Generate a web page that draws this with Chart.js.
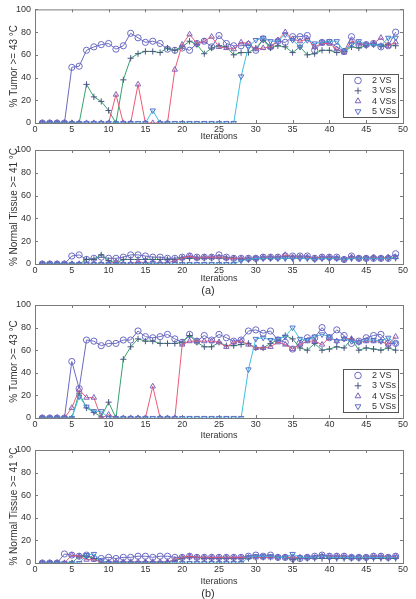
<!DOCTYPE html>
<html>
<head>
<meta charset="utf-8">
<script src="https://cdn.jsdelivr.net/npm/chart.js@4/dist/chart.umd.min.js"></script>
<style>
  body { margin: 0; background: #fff; width: 416px; height: 599px; position: relative; overflow: hidden; font-family: "Liberation Sans", Arial, sans-serif; }
  canvas { position: absolute; left: 0; }
  .cap { position: absolute; left: 0; width: 416px; text-align: center; font-size: 11px; line-height: 14px; color: #333; }
</style>
</head>
<body>
<canvas id="tumorA" width="416" height="142" style="top:0px"></canvas>
<canvas id="normalA" width="416" height="144" style="top:140px"></canvas>
<div class="cap" style="top:283px">(a)</div>
<canvas id="tumorB" width="416" height="146" style="top:295px"></canvas>
<canvas id="normalB" width="416" height="147" style="top:440px"></canvas>
<div class="cap" style="top:586px">(b)</div>
<script>
// x values (iterations)
const iterations = [1,2,3,4,5,6,7,8,9,10,11,12,13,14,15,16,17,18,19,20,21,22,23,24,25,
  26,27,28,29,30,31,32,33,34,35,36,37,38,39,40,41,42,43,44,45,46,47,48,49];
const seriesLabels = ['2 VS', '3 VSs', '4 VSs', '5 VSs'];
const xTicks = [0, 5, 10, 15, 20, 25, 30, 35, 40, 45, 50];
const yTicks = [0, 20, 40, 60, 80, 100];

// (a) % tumor >= 43 C
const tumorA2 = [0,0,0,0,49,50,64,67,69,70,65,68,79,75,71,72,70,65,64,66,64,70,72,67,77,70,68,68,69,64,74,67,72,71,76,76,77,64,71,71,67,63,76,69,69,70,67,68,80];
const tumorA3 = [0,0,0,0,0,0,34,23,19,11,0,38,57,61,63,63,62,66,64,67,72,69,61,66,68,67,60,62,62,66,73,66,68,67,62,67,60,61,64,64,62,63,67,66,68,70,68,69,68];
const tumorA4 = [0,0,0,0,0,0,0,0,0,0,25,0,0,34,0,0,0,0,47,69,78,70,72,76,67,66,65,71,70,65,66,67,73,80,74,72,74,67,70,70,65,62,72,70,69,70,75,68,71];
const tumorA5 = [0,0,0,0,0,0,0,0,0,0,0,0,0,0,0,11,0,0,0,0,0,0,0,0,0,0,0,41,67,73,75,72,72,78,73,67,73,70,71,72,72,63,69,72,69,69,68,75,75];

// (a) % normal tissue >= 41 C
const normalA2 = [0,0,0,0,7,8,4,5,6,5,5,6,8,8,7,6,6,5,5,6,7,6,6,6,8,6,5,5,5,5,6,6,6,7,7,7,7,5,6,6,6,4,7,5,5,5,5,5,9];
const normalA3 = [0,0,0,0,0,0,4,4,8,3,1,4,4,4,4,4,4,4,4,5,5,5,5,5,5,5,5,4,4,4,5,5,5,5,5,5,5,5,5,5,5,4,5,5,5,5,5,5,5];
const normalA4 = [0,0,0,0,0,0,0,0,0,0,2,0,0,2,1,1,1,1,3,5,7,5,6,6,6,5,5,5,5,5,6,6,6,8,6,6,6,5,6,6,5,4,6,5,5,6,5,6,6];
const normalA5 = [0,0,0,0,0,0,0,0,0,0,0,0,0,0,0,1,0,0,0,0,0,0,0,0,0,0,0,3,4,5,5,5,5,5,5,5,5,4,5,5,5,4,5,5,5,5,5,5,6];

// (b) % tumor >= 43 C
const tumorB2 = [0,0,0,0,50,26,69,68,64,66,66,69,69,77,72,71,72,74,70,67,74,68,73,69,74,71,68,69,77,78,75,77,69,67,61,66,71,71,80,71,78,73,66,68,71,73,74,66,66];
const tumorB3 = [0,0,0,0,0,22,9,5,1,14,0,52,63,70,68,68,66,66,66,67,73,67,63,63,67,64,64,65,66,62,62,66,69,73,70,62,60,66,60,61,63,62,70,60,62,61,60,62,60];
const tumorB4 = [0,0,0,0,9,25,18,18,0,3,0,0,0,0,0,28,0,0,0,65,68,68,68,68,67,63,67,68,65,62,62,63,67,65,61,65,68,68,65,71,68,70,70,67,68,68,68,65,72];
const tumorB5 = [0,0,0,0,0,19,10,6,6,0,0,0,0,0,0,0,0,0,0,0,0,0,0,0,0,0,0,0,43,70,71,69,70,72,80,70,69,72,74,72,68,70,68,67,69,69,68,71,66];

// (b) % normal tissue >= 41 C
const normalB2 = [0,0,0,8,7,6,7,4,4,5,4,5,5,6,6,5,6,6,5,5,6,5,5,5,5,5,5,5,6,7,6,7,5,5,4,4,5,6,7,6,6,6,5,5,5,6,6,5,6];
const normalB3 = [0,0,0,0,0,6,6,4,1,0,0,0,0,0,0,0,0,1,2,4,5,5,4,4,4,4,4,4,4,5,5,5,5,5,3,4,4,4,4,4,4,4,4,4,4,4,4,4,4];
const normalB4 = [0,0,0,0,7,6,3,3,1,1,1,1,1,1,1,1,1,1,3,5,6,5,5,5,5,5,5,5,5,5,5,5,5,5,5,5,5,5,6,6,6,6,5,5,5,6,6,5,6];
const normalB5 = [0,0,0,0,0,0,7,8,2,0,0,0,0,0,0,0,0,0,0,0,0,0,0,0,0,0,0,0,5,6,6,6,5,5,8,5,5,5,6,5,5,5,5,5,5,5,5,5,5];

const lineColors = ['#6b6bc0', '#35a36b', '#ec5a75', '#3fbfe0'];
const markerColors = ['#6a6ac4', '#4a5580', '#7f62bc', '#5b6fc8'];
const pointStyles = ['circle', 'cross', 'triangle', 'triangle'];
const pointRotations = [0, 0, 0, 180];
const fontFamily = '"Liberation Sans", Arial, sans-serif';
const textColor = '#333';

// box around the plot with inward ticks on all four sides
const boxPlugin = {
  id: 'box',
  beforeDatasetsDraw(chart) {
    const {ctx, chartArea: a, scales: {x, y}} = chart;
    ctx.save();
    ctx.strokeStyle = '#7a7a7a';
    ctx.lineWidth = 1;
    ctx.strokeRect(a.left + 0.5, a.top + 0.5, a.right - a.left, a.bottom - a.top);
    ctx.beginPath();
    x.ticks.forEach((t, i) => {
      const px = Math.round(x.getPixelForTick(i)) + 0.5;
      ctx.moveTo(px, a.bottom); ctx.lineTo(px, a.bottom - 3);
      ctx.moveTo(px, a.top); ctx.lineTo(px, a.top + 3);
    });
    y.ticks.forEach((t, i) => {
      const py = Math.round(y.getPixelForTick(i)) + 0.5;
      ctx.moveTo(a.left, py); ctx.lineTo(a.left + 3, py);
      ctx.moveTo(a.right, py); ctx.lineTo(a.right - 3, py);
    });
    ctx.stroke();
    ctx.restore();
  }
};

// boxed legend in the lower right of the plot
const legendPlugin = {
  id: 'vsLegend',
  afterDatasetsDraw(chart, args, opts) {
    if (!opts.show) return;
    const {ctx, chartArea: a} = chart;
    const w = 55, h = 43;
    const left = a.right - 5 - w, top = a.bottom - 6 - h;
    ctx.save();
    ctx.fillStyle = '#fff';
    ctx.fillRect(left, top, w, h);
    ctx.strokeStyle = '#555';
    ctx.lineWidth = 1;
    ctx.strokeRect(left + 0.5, top + 0.5, w, h);
    seriesLabels.forEach((lab, i) => {
      const yy = top + 6.5 + i * 10.3;
      ctx.strokeStyle = markerColors[i];
      ctx.fillStyle = 'rgba(0,0,0,0)';
      Chart.helpers.drawPoint(ctx, {pointStyle: pointStyles[i], rotation: pointRotations[i], radius: 3.3, borderWidth: 1}, left + 15, yy);
      ctx.fillStyle = textColor;
      ctx.font = '9px ' + fontFamily;
      ctx.textBaseline = 'middle';
      ctx.fillText(lab, left + 29, yy);
    });
    ctx.restore();
  }
};

function makeChart(id, yTitle, series, areaTop, areaBottom, withLegend) {
  const canvas = document.getElementById(id);
  const H = canvas.height;
  const font = {family: fontFamily, size: 9};
  return new Chart(canvas, {
    type: 'line',
    data: {
      datasets: series.map((s, i) => ({
        label: seriesLabels[i],
        data: iterations.map((it, k) => ({x: it, y: s[k]})),
        borderColor: lineColors[i],
        borderWidth: 1,
        pointStyle: pointStyles[i],
        pointRotation: pointRotations[i],
        pointRadius: 3.1,
        pointBorderWidth: 1,
        pointBorderColor: markerColors[i],
        pointBackgroundColor: 'rgba(0,0,0,0)',
        order: 3 - i
      }))
    },
    options: {
      responsive: false,
      animation: false,
      events: [],
      layout: {padding: {top: areaTop, right: 13, left: 0, bottom: 0}},
      plugins: {legend: {display: false}, tooltip: {enabled: false}, vsLegend: {show: withLegend}},
      scales: {
        x: {
          type: 'linear', min: 0, max: 50,
          afterBuildTicks: s => { s.ticks = xTicks.map(v => ({value: v})); },
          ticks: {padding: 1, font, color: textColor, maxRotation: 0},
          grid: {display: false, drawTicks: false}, border: {display: false},
          title: {display: true, text: 'Iterations', font, color: textColor, padding: 0},
          afterFit: s => { s.height = H - areaBottom; }
        },
        y: {
          min: 0, max: 100,
          afterBuildTicks: s => { s.ticks = yTicks.map(v => ({value: v})); },
          ticks: {padding: 4, font, color: textColor},
          grid: {display: false, drawTicks: false}, border: {display: false},
          title: {display: true, text: yTitle, font: {family: fontFamily, size: 10}, color: textColor, padding: {top: 8, bottom: 0}},
          afterFit: s => { s.width = 35; }
        }
      }
    },
    plugins: [boxPlugin, legendPlugin]
  });
}

makeChart('tumorA', '% Tumor >= 43 °C', [tumorA2, tumorA3, tumorA4, tumorA5], 9, 123, true);
makeChart('normalA', '% Normal Tissue >= 41 °C', [normalA2, normalA3, normalA4, normalA5], 10, 124, false);
makeChart('tumorB', '% Tumor >= 43 °C', [tumorB2, tumorB3, tumorB4, tumorB5], 10, 123, true);
makeChart('normalB', '% Normal Tissue >= 41 °C', [normalB2, normalB3, normalB4, normalB5], 10, 123, false);
</script>
</body>
</html>
